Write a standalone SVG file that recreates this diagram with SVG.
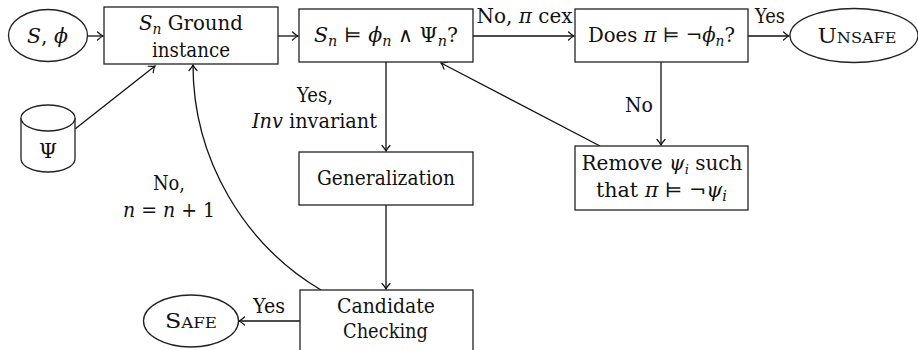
<svg xmlns="http://www.w3.org/2000/svg" width="918" height="350" viewBox="0 0 918 350">
<style>
.box{fill:#fff;stroke:#222;stroke-width:1.3}
.edge{fill:none;stroke:#111;stroke-width:1.3}
text{font-family:'DejaVu Serif','Liberation Serif',serif;font-size:20px;fill:#111;text-anchor:middle}
.it{font-style:italic}
.sc{font-variant:small-caps}
</style>
<defs>
<marker id="arr" markerUnits="userSpaceOnUse" markerWidth="12" markerHeight="12" viewBox="-7 -6 8 12" refX="0" refY="0" orient="auto">
<path d="M -5.5 -4 Q -2 -0.8 0 0 Q -2 0.8 -5.5 4" fill="none" stroke="#111" stroke-width="1.2" stroke-linecap="round"/>
</marker>
</defs>
<rect width="918" height="350" fill="#fff"/>

<g id="connectors">
<line class="edge" x1="87" y1="36" x2="103" y2="36" marker-end="url(#arr)"/>
<line class="edge" x1="75" y1="129" x2="155" y2="66" marker-end="url(#arr)"/>
<line class="edge" x1="278" y1="36" x2="298" y2="36" marker-end="url(#arr)"/>
<line class="edge" x1="473" y1="36" x2="574" y2="36" marker-end="url(#arr)"/>
<line class="edge" x1="748" y1="36" x2="789" y2="36" marker-end="url(#arr)"/>
<line class="edge" x1="661" y1="62" x2="661" y2="145" marker-end="url(#arr)"/>
<line class="edge" x1="600" y1="146" x2="441" y2="63" marker-end="url(#arr)"/>
<line class="edge" x1="386" y1="62" x2="386" y2="151" marker-end="url(#arr)"/>
<line class="edge" x1="386" y1="205" x2="386" y2="289" marker-end="url(#arr)"/>
<line class="edge" x1="300" y1="321" x2="239" y2="321" marker-end="url(#arr)"/>
<path class="edge" d="M 321 290 C 245 245, 193 160, 193 65" marker-end="url(#arr)"/>
<text x="524.5" y="23">No, <tspan class="it">π</tspan> cex</text>
<text x="770" y="23" textLength="30" lengthAdjust="spacingAndGlyphs">Yes</text>
<text x="639" y="112" textLength="28" lengthAdjust="spacingAndGlyphs">No</text>
<text x="315" y="102" textLength="36" lengthAdjust="spacingAndGlyphs">Yes,</text>
<text x="314.5" y="128" textLength="125" lengthAdjust="spacingAndGlyphs"><tspan class="it">Inv</tspan> invariant</text>
<text x="169" y="190" textLength="32" lengthAdjust="spacingAndGlyphs">No,</text>
<text x="169" y="217" textLength="92" lengthAdjust="spacingAndGlyphs"><tspan class="it">n</tspan> = <tspan class="it">n</tspan> + 1</text>
<text x="269" y="313" textLength="32" lengthAdjust="spacingAndGlyphs">Yes</text>
</g>

<g id="start">
<ellipse cx="48" cy="35.5" rx="39.5" ry="26" class="box"/>
<text x="47.5" y="43" textLength="41" lengthAdjust="spacingAndGlyphs"><tspan class="it">S</tspan>, <tspan class="it">ϕ</tspan></text>
</g>

<g id="psi">
<path class="box" d="M 21 118 L 21 159 A 27 13 0 0 0 75 159 L 75 118"/>
<ellipse cx="48" cy="118" rx="27" ry="13" class="box"/>
<text x="48" y="158" textLength="18" lengthAdjust="spacingAndGlyphs">Ψ</text>
</g>

<g id="ground">
<rect x="104" y="7" width="174" height="57" class="box"/>
<text x="191" y="30" textLength="104" lengthAdjust="spacingAndGlyphs"><tspan class="it">S</tspan><tspan class="it" font-size="14" baseline-shift="-4">n</tspan> Ground</text>
<text x="191" y="57" textLength="78" lengthAdjust="spacingAndGlyphs">instance</text>
</g>

<g id="check">
<rect x="299" y="9" width="174" height="53" class="box"/>
<text x="386" y="42" textLength="144" lengthAdjust="spacingAndGlyphs"><tspan class="it">S</tspan><tspan class="it" font-size="14" baseline-shift="-4">n</tspan> ⊨ <tspan class="it">ϕ</tspan><tspan class="it" font-size="14" baseline-shift="-4">n</tspan> ∧ Ψ<tspan class="it" font-size="14" baseline-shift="-4">n</tspan>?</text>
</g>

<g id="does">
<rect x="575" y="9" width="173" height="53" class="box"/>
<text x="661.5" y="42" textLength="147" lengthAdjust="spacingAndGlyphs">Does <tspan class="it">π</tspan> ⊨ ¬<tspan class="it">ϕ</tspan><tspan class="it" font-size="14" baseline-shift="-4">n</tspan>?</text>
</g>

<g id="unsafe">
<ellipse cx="854" cy="35.5" rx="64" ry="27" class="box"/>
<text x="857" y="43" class="sc" textLength="79" lengthAdjust="spacingAndGlyphs">Unsafe</text>
</g>

<g id="remove">
<rect x="575" y="146" width="173" height="64" class="box"/>
<text x="662" y="170" font-size="19">Remove <tspan class="it">ψ</tspan><tspan class="it" font-size="13" baseline-shift="-4">i</tspan> such</text>
<text x="661.5" y="197" textLength="131" lengthAdjust="spacingAndGlyphs">that <tspan class="it">π</tspan> ⊨ ¬<tspan class="it">ψ</tspan><tspan class="it" font-size="14" baseline-shift="-4">i</tspan></text>
</g>

<g id="generalization">
<rect x="299" y="152" width="174" height="53" class="box"/>
<text x="386" y="185" textLength="138" lengthAdjust="spacingAndGlyphs">Generalization</text>
</g>

<g id="candidate">
<rect x="300" y="290" width="173" height="64" class="box"/>
<text x="386" y="313" textLength="98" lengthAdjust="spacingAndGlyphs">Candidate</text>
<text x="385.5" y="338" textLength="85" lengthAdjust="spacingAndGlyphs">Checking</text>
</g>

<g id="safe">
<ellipse cx="191" cy="321" rx="47.5" ry="26" class="box"/>
<text x="191" y="328" class="sc" textLength="52" lengthAdjust="spacingAndGlyphs">Safe</text>
</g>
</svg>
